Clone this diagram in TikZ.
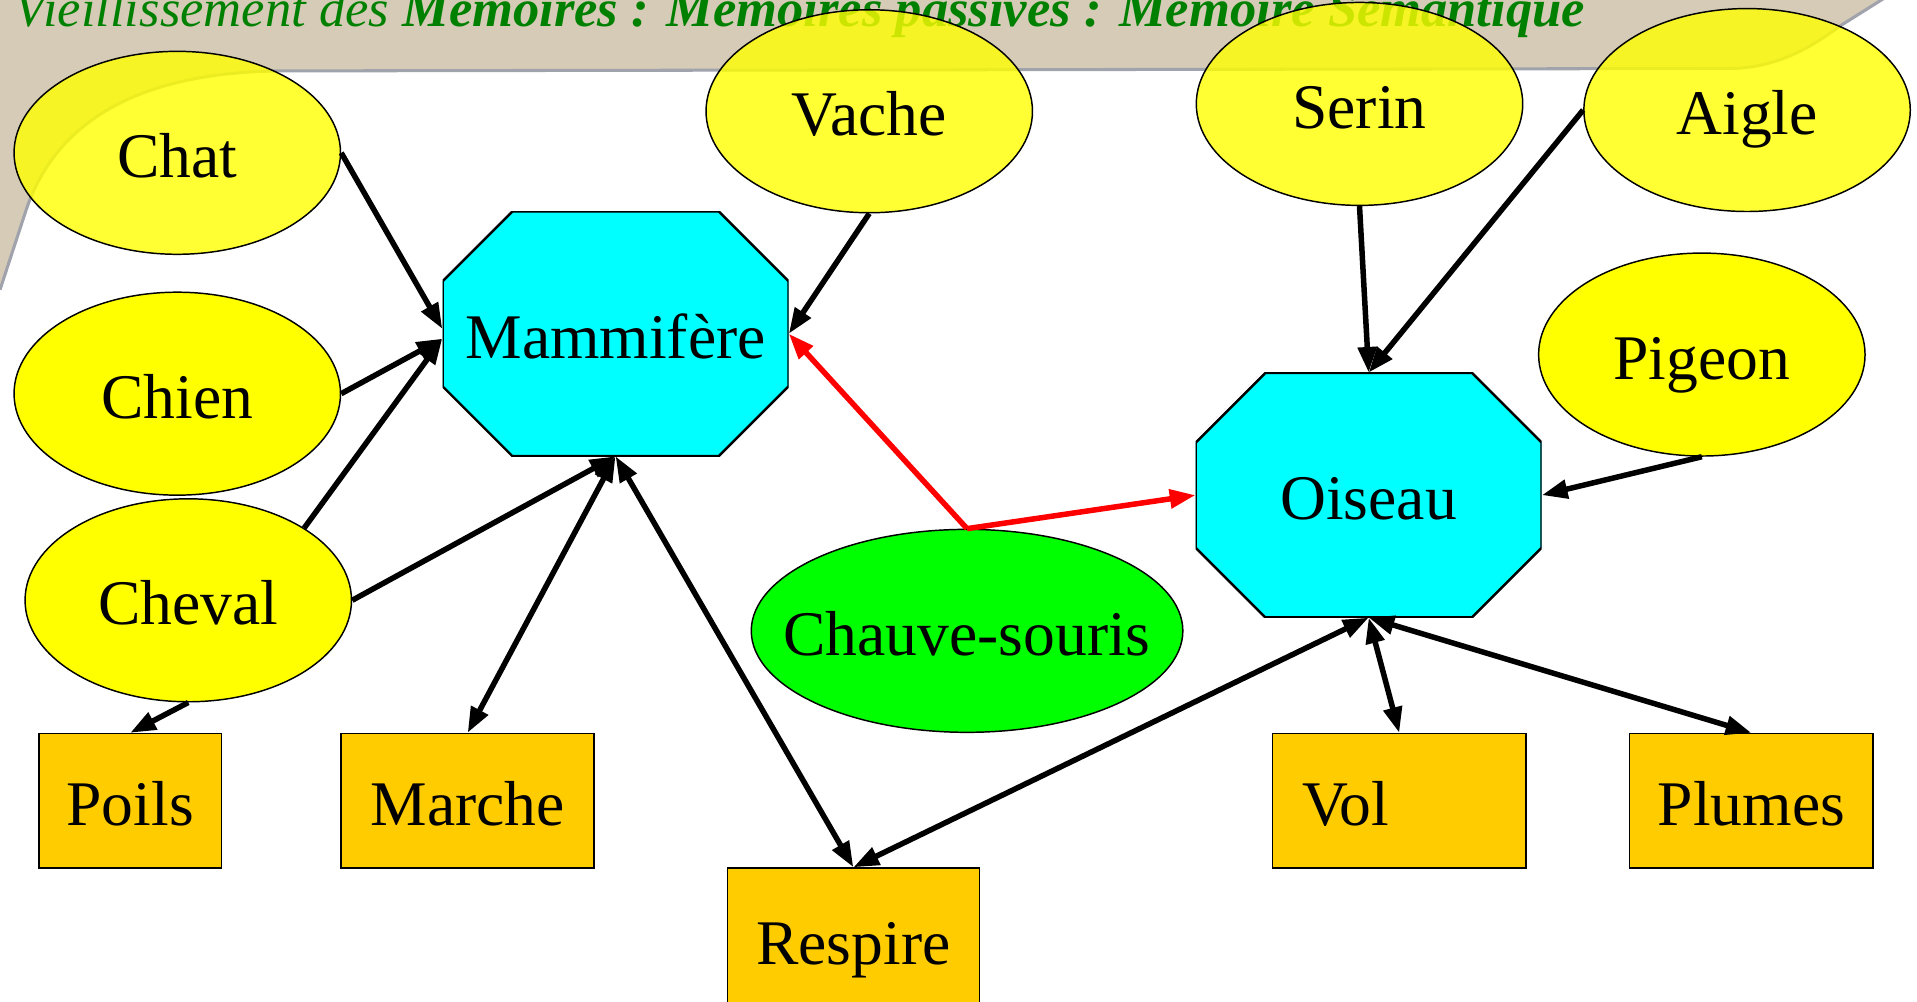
\documentclass[tikz,border=0pt]{standalone}
\usepackage{fontspec}
\setmainfont{Liberation Serif}
\usetikzlibrary{shapes.geometric,arrows.meta}

\definecolor{jaune}{RGB}{255,255,0}
\definecolor{vertclair}{RGB}{0,255,0}
\definecolor{turquoise}{RGB}{0,255,255}
\definecolor{boite}{RGB}{255,204,0}
\definecolor{vertfonce}{RGB}{0,128,0}
\definecolor{fond}{RGB}{214,203,182}
\definecolor{ombre}{RGB}{160,162,172}

\tikzset{
	mot/.style={font=\fontsize{52}{60}\selectfont, inner sep=0pt,
		text height=40pt, text depth=0pt},
	animal/.style={mot, ellipse, draw=black, line width=1.2pt, fill=jaune,
		minimum width=267pt, minimum height=166pt},
	voile/.style={fill opacity=0.8, text opacity=1},
	classe/.style={mot, rectangle, minimum width=283pt, minimum height=200pt,
		path picture={\filldraw[fill=turquoise, draw=black, line width=2pt]
			([xshift=57pt]path picture bounding box.north west) --
			([xshift=-57pt]path picture bounding box.north east) --
			([yshift=-57pt]path picture bounding box.north east) --
			([yshift=57pt]path picture bounding box.south east) --
			([xshift=-57pt]path picture bounding box.south east) --
			([xshift=57pt]path picture bounding box.south west) --
			([yshift=57pt]path picture bounding box.south west) --
			([yshift=-57pt]path picture bounding box.north west) -- cycle;}},
	trait/.style={mot, rectangle, draw=black, line width=1.2pt, fill=boite,
		minimum height=110pt},
	pointe/.tip={Triangle[length=21pt,width=15pt]},
	fleche/.style={line width=4.5pt, -pointe},
	lien/.style={line width=4.5pt, pointe-pointe},
	rouge/.style={fleche, color=red}
}

\begin{document}
\begin{tikzpicture}[x=1pt, y=-1pt]
		\useasboundingbox (0,0) rectangle (1568,818.8);
		\clip (0,0) rectangle (1568,818.8);

		% fond de la diapositive
		\fill[fond] (0,0) rectangle (1568,818.8);
		\fill[white] (0,830) -- (0,237) -- (20,176)
			.. controls (45,95) and (120,58) .. (234,58) -- (1417,56)
			.. controls (1460,55) and (1490,32) .. (1507,20) -- (1542,-2)
			-- (1570,-2) -- (1570,830) -- cycle;
		\draw[ombre, line width=2.5pt] (0,237) -- (20,176)
			.. controls (45,95) and (120,58) .. (234,58) -- (1417,56)
			.. controls (1460,55) and (1490,32) .. (1507,20) -- (1542,-2);
		\draw (12,22) node [anchor=base west, inner sep=0pt, text=vertfonce,
			font=\fontsize{43}{50}\selectfont\itshape] (titre)
			{Vieillissement des \textbf{Memoires : Memoires passives : Memoire Semantique}};

		\draw (145,125) node [animal, voile] (chat) {Chat};
		\draw (145,322) node [animal] (chien) {Chien};
		\draw (154,491) node [animal] (cheval) {Cheval};
		\draw (711,91) node [animal, voile] (vache) {Vache};
		\draw (1112,85) node [animal, voile] (serin) {Serin};
		\draw (1429,90) node [animal, voile] (aigle) {Aigle};
		\draw (1392,290) node [animal] (pigeon) {Pigeon};
		\draw (791,516) node [animal, fill=vertclair, minimum width=353pt,
			inner xsep=-30pt] (chauve) {Chauve-souris};

		\draw (503.5,273) node [classe] (mammifere) {Mammifère};
		\draw (1119.5,405) node [classe] (oiseau) {Oiseau};

		\draw (106.5,655) node [trait, minimum width=149pt] (poils) {Poils};
		\draw (382.5,655) node [trait, minimum width=207pt] (marche) {Marche};
		\draw (698,769) node [trait, minimum width=206pt, minimum height=118pt] (respire) {Respire};
		\draw (1144.5,655) node [trait, minimum width=207pt, inner xsep=24pt,
			text width=159pt, align=left] (vol) {Vol};
		\draw (1432.5,655) node [trait, minimum width=199pt] (plumes) {Plumes};

		\draw
			(chat.east) edge [fleche] ([yshift=4pt]mammifere.west)
			(chien.east) edge [fleche] ([yshift=-4pt]mammifere.west)
			(cheval.north east) edge [fleche] ([yshift=-4pt]mammifere.west)
			(cheval.east) edge [fleche] (mammifere.south)
			(vache.south) edge [fleche] (mammifere.east)
			(cheval.south) edge [fleche] (poils.north)
			(mammifere.south) edge [lien] (marche.north)
			(mammifere.south) edge [lien] (respire.north)
			(chauve.north) edge [rouge] (mammifere.east)
			(chauve.north) edge [rouge] (oiseau.west)
			(serin.south) edge [fleche] (oiseau.north)
			(aigle.west) edge [fleche] (oiseau.north)
			(pigeon.south) edge [fleche] (oiseau.east)
			(oiseau.south) edge [lien] (respire.north)
			(oiseau.south) edge [lien] (vol.north)
			(oiseau.south) edge [lien] (plumes.north)
		;
	\end{tikzpicture}
\end{document}
